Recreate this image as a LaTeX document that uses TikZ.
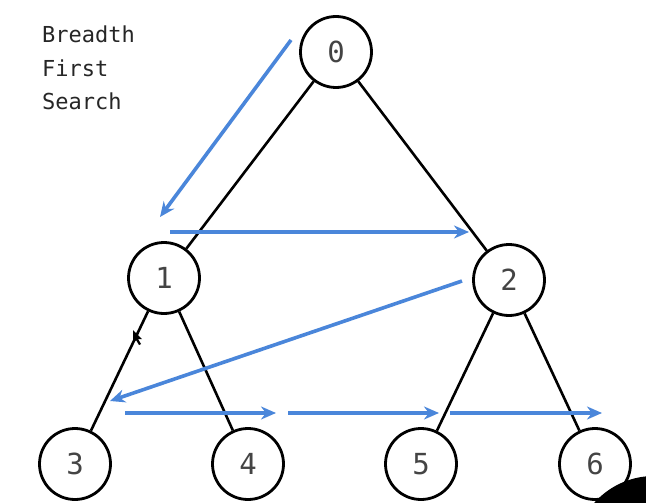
\documentclass[tikz,border=0pt]{standalone}
\usepackage{fontspec}
\setmonofont{DejaVu Sans Mono}
\usetikzlibrary{arrows.meta}
\definecolor{bfsblue}{HTML}{4A86DA}
\definecolor{digitgray}{HTML}{444444}
\tikzset{
  treenode/.style={circle, draw=black, line width=2.8pt, minimum size=71pt, inner sep=0pt,
    font=\ttfamily\fontsize{29}{29}\selectfont, text=digitgray},
  treeedge/.style={draw=black, line width=2.6pt},
  order/.style={draw=bfsblue, line width=3.6pt, -{Stealth[length=15pt,width=13pt]}},
  label/.style={anchor=base west, inner sep=0pt, font=\ttfamily\fontsize{22}{22}\selectfont, text=black!85}
}
\begin{document}
\begin{tikzpicture}[x=1pt,y=-1pt]
\useasboundingbox (0,0) rectangle (646,503);
\fill[white] (0,0) rectangle (646,503);
% title
\node[label] (t1) at (42,43) {Breadth};
\node[label] (t2) at (42,77) {First};
\node[label] (t3) at (42,110) {Search};
% nodes
\node[treenode] (n0) at (336,52) {0};
\node[treenode] (n1) at (164,278) {1};
\node[treenode] (n2) at (509,280) {2};
\node[treenode] (n3) at (75,464) {3};
\node[treenode] (n4) at (248,464) {4};
\node[treenode] (n5) at (421,464) {5};
\node[treenode] (n6) at (595,464) {6};
% edges
\draw[treeedge] (n0) -- (n1);
\draw[treeedge] (n0) -- (n2);
\draw[treeedge] (n1) -- (n3);
\draw[treeedge] (n1) -- (n4);
\draw[treeedge] (n2) -- (n5);
\draw[treeedge] (n2) -- (n6);
% traversal order
\coordinate (a0) at (291,40);
\coordinate (a1) at (160,217);
\coordinate (b0) at (170,232);
\coordinate (b1) at (469,232);
\coordinate (c0) at (462,281);
\coordinate (c1) at (110,401);
\coordinate (d0) at (125,413);
\coordinate (d1) at (276,413);
\coordinate (e0) at (288,413);
\coordinate (e1) at (439,413);
\coordinate (f0) at (450,413);
\coordinate (f1) at (602,413);
\draw[order] (a0) -- (a1);
\draw[order] (b0) -- (b1);
\draw[order] (c0) -- (c1);
\draw[order] (d0) -- (d1);
\draw[order] (e0) -- (e1);
\draw[order] (f0) -- (f1);
% mouse cursor
\fill[black] (133,330) -- (133,343) -- (136,340) -- (139,345) -- (141,344) -- (138,339) -- (142,339) -- cycle;
% dark blob in corner
\begin{scope}
\clip (0,0) rectangle (646,503);
\fill[black] (654,556) circle[radius=80];
\end{scope}
\end{tikzpicture}
\end{document}
